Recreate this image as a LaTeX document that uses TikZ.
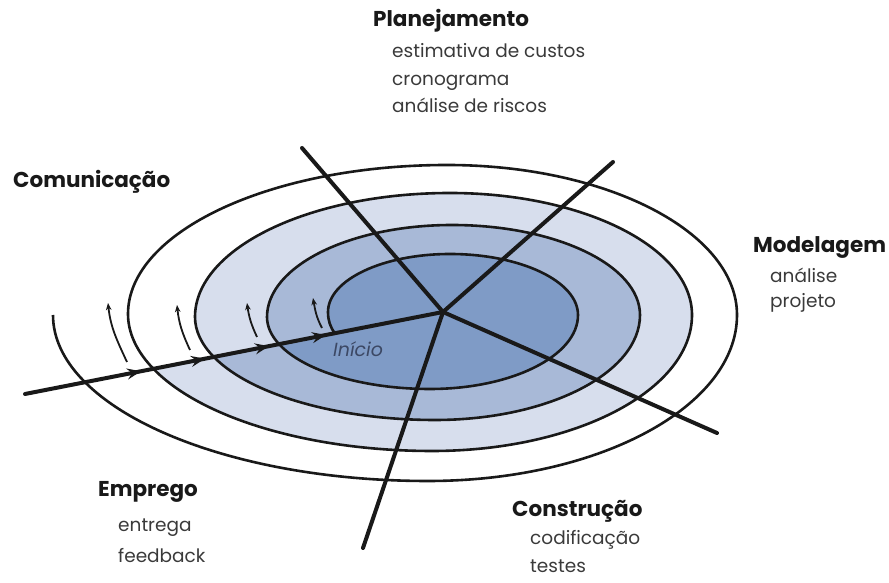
\documentclass[tikz,border=0pt]{standalone}
\usepackage{fontspec}
\setmainfont{Poppins}
\usetikzlibrary{arrows.meta,decorations.markings}
\definecolor{ringdark}{RGB}{127,155,198}
\definecolor{ringmid}{RGB}{168,185,215}
\definecolor{ringlight}{RGB}{215,222,237}
\definecolor{subtext}{RGB}{58,58,58}
\definecolor{headtext}{RGB}{25,25,25}
\definecolor{starttext}{RGB}{60,72,100}
\def\myspiral{(P0) .. controls (330,256) and (328,263) .. (328,271)
  arc[start angle=180,end angle=90,x radius=122,y radius=58]
  arc[start angle=90,end angle=0,x radius=128,y radius=61]
  arc[start angle=0,end angle=-90,x radius=148,y radius=74]
  arc[start angle=-90,end angle=-157.5,x radius=163,y radius=72] coordinate (P1)
  arc[start angle=-157.5,end angle=-180,x radius=163,y radius=72]
  arc[start angle=180,end angle=90,x radius=185,y radius=92]
  arc[start angle=90,end angle=0,x radius=188,y radius=90]
  arc[start angle=0,end angle=-90,x radius=205,y radius=105]
  arc[start angle=-90,end angle=-156.9,x radius=240,y radius=103] coordinate (P2)
  arc[start angle=-156.9,end angle=-180,x radius=240,y radius=103]
  arc[start angle=180,end angle=90,x radius=255,y radius=124]
  arc[start angle=90,end angle=0,x radius=242,y radius=122]
  arc[start angle=0,end angle=-90,x radius=260,y radius=136]
  arc[start angle=-90,end angle=-156.1,x radius=304,y radius=137] coordinate (P3)
  arc[start angle=-156.1,end angle=-180,x radius=304,y radius=137]
  arc[start angle=180,end angle=90,x radius=319,y radius=149]
  arc[start angle=90,end angle=0,x radius=290,y radius=150]
  arc[start angle=0,end angle=-90,x radius=309,y radius=166]
  arc[start angle=-90,end angle=-180,x radius=375,y radius=166] coordinate (L4)}
\begin{document}
\begin{tikzpicture}[x=1pt,y=1pt,
  head/.style={font=\fontsize{21.5}{24}\selectfont\bfseries, text=headtext, inner sep=0pt, anchor=base west},
  item/.style={font=\fontsize{18.5}{22}\selectfont, text=subtext, inner sep=0pt, anchor=base west},
  spiralline/.style={line width=2.6pt, draw=black!90},
  spoke/.style={line width=4pt, draw=black!90, line cap=round},
  turnarrow/.style={line width=1.8pt, draw=black!90, -{Stealth[length=7pt,width=5.5pt,inset=2pt]}},
  linehead/.style={postaction={decorate}, decoration={markings,
    mark=at position 0.2775 with {\arrow{Stealth[length=14pt,width=11pt,inset=5pt]}},
    mark=at position 0.4306 with {\arrow{Stealth[length=14pt,width=11pt,inset=5pt]}},
    mark=at position 0.5837 with {\arrow{Stealth[length=14pt,width=11pt,inset=5pt]}},
    mark=at position 0.7201 with {\arrow{Stealth[length=14pt,width=11pt,inset=5pt]}}}},
]
\useasboundingbox (0,0) rectangle (889,583);
\coordinate (P0) at (335,249.6);
\path \myspiral;
% ring fills
\fill[ringlight] (P2) arc[start angle=-156.9,end angle=-180,x radius=240,y radius=103]
  arc[start angle=180,end angle=90,x radius=255,y radius=124]
  arc[start angle=90,end angle=0,x radius=242,y radius=122]
  arc[start angle=0,end angle=-90,x radius=260,y radius=136]
  arc[start angle=-90,end angle=-156.1,x radius=304,y radius=137] -- cycle;
\fill[ringmid] (P1) arc[start angle=-157.5,end angle=-180,x radius=163,y radius=72]
  arc[start angle=180,end angle=90,x radius=185,y radius=92]
  arc[start angle=90,end angle=0,x radius=188,y radius=90]
  arc[start angle=0,end angle=-90,x radius=205,y radius=105]
  arc[start angle=-90,end angle=-156.9,x radius=240,y radius=103] -- cycle;
\fill[ringdark] (P0) .. controls (330,256) and (328,263) .. (328,271)
  arc[start angle=180,end angle=90,x radius=122,y radius=58]
  arc[start angle=90,end angle=0,x radius=128,y radius=61]
  arc[start angle=0,end angle=-90,x radius=148,y radius=74]
  arc[start angle=-90,end angle=-157.5,x radius=163,y radius=72] -- cycle;
% spiral outline
\draw[spiralline] \myspiral;
% spokes
\coordinate (C) at (443,271);
\coordinate (NW) at (302,435);
\coordinate (NE) at (613,421);
\coordinate (SE) at (717,150);
\coordinate (S) at (363,35);
\coordinate (W) at (25,189);
\draw[spoke] (C) -- (NW);
\draw[spoke] (C) -- (NE);
\draw[spoke] (C) -- (SE);
\draw[spoke] (C) -- (S);
\draw[spoke, linehead] (W) -- (C);
% turn arrows
\coordinate (a0s) at (322,255); \coordinate (a0e) at (313,285);
\coordinate (a1s) at (257,246); \coordinate (a1e) at (247,280);
\coordinate (a2s) at (190,233); \coordinate (a2e) at (177,278);
\coordinate (a3s) at (127,221); \coordinate (a3e) at (108,280);
\draw[turnarrow] (a0s) to[out=118, in=-80] (a0e);
\draw[turnarrow] (a1s) to[out=115, in=-82] (a1e);
\draw[turnarrow] (a2s) to[out=115, in=-84] (a2e);
\draw[turnarrow] (a3s) to[out=115, in=-84] (a3e);
% labels
\node[head] (plan) at (373,556) {Planejamento};
\node[item] (plan1) at (392,525) {estimativa de custos};
\node[item] (plan2) at (392,497) {cronograma};
\node[item] (plan3) at (392,470) {análise de riscos};
\node[head] (com) at (13,395) {Comunicação};
\node[head] (mod) at (753,330) {Modelagem};
\node[item] (mod1) at (770,300) {análise};
\node[item] (mod2) at (770,275) {projeto};
\node[head] (emp) at (98,86) {Emprego};
\node[item] (emp1) at (118,51) {entrega};
\node[item] (emp2) at (118,20) {feedback};
\node[head] (con) at (512,66) {Construção};
\node[item] (con1) at (530,38) {codificação};
\node[item] (con2) at (530,10) {testes};
\node[inner sep=0pt, anchor=base west, text=starttext, font=\fontsize{19}{22}\selectfont\itshape] (ini) at (333,226) {Início};
\end{tikzpicture}
\end{document}
